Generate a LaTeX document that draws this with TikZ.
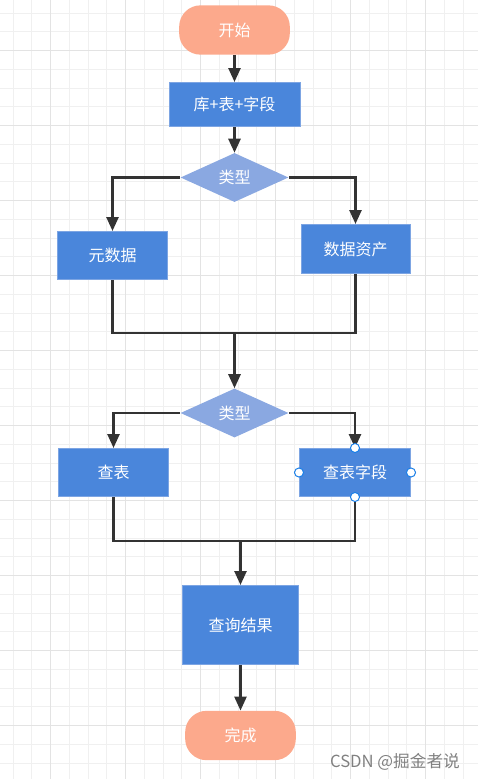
\documentclass[tikz,border=0pt]{standalone}
\usepackage{fontspec}
\setmainfont{Noto Sans CJK SC}
\usetikzlibrary{shapes.geometric,arrows.meta}
\definecolor{pillfill}{HTML}{FCA98C}
\definecolor{boxblue}{HTML}{4A86DB}
\definecolor{boxline}{HTML}{7DA5E3}
\definecolor{diamondblue}{HTML}{8AA8E1}
\definecolor{flowline}{HTML}{333333}
\definecolor{gridminor}{HTML}{F0F0F0}
\definecolor{gridmajor}{HTML}{E3E3E3}
\definecolor{handleblue}{HTML}{1A7FE8}
\tikzset{
	nodetext/.style={text=white, inner sep=0pt, font=\fontsize{12}{14}\selectfont},
	terminal/.style={nodetext, fill=pillfill, rounded corners=16pt, minimum width=83pt, minimum height=37pt},
	process/.style={nodetext, fill=boxblue, draw=boxline, line width=0.75pt},
	decision/.style={nodetext, diamond, aspect=2.2, fill=diamondblue, minimum width=81pt, minimum height=36.75pt},
	flow/.style={draw=flowline, line width=1.9pt, -{Triangle[length=10.5pt,width=9pt]}},
	joinline/.style={draw=flowline, line width=1.9pt},
	handle/.style={draw=handleblue, fill=white, line width=0.75pt},
	minorline/.style={draw=gridminor, line width=0.75pt},
	majorline/.style={draw=gridmajor, line width=1.1pt}
}
\begin{document}
\begin{tikzpicture}[x=0.75pt,y=0.75pt]
		\useasboundingbox (0,0) rectangle (478,-779);
		\foreach \gx in {0,...,25}
			\draw[minorline] ({13+18.75*\gx},0) -- ({13+18.75*\gx},-779);
		\foreach \gy in {0,...,41}
			\draw[minorline] (0,{-13-18.75*\gy}) -- (478,{-13-18.75*\gy});
		\foreach \gx in {0,...,5}
			\draw[majorline] ({50.5+75*\gx},0) -- ({50.5+75*\gx},-779);
		\foreach \gy in {0,...,9}
			\draw[majorline] (0,{-50.5-75*\gy}) -- (478,{-50.5-75*\gy});
		\node[terminal] (start) at (234.5,-30) {开始};
		\node[process, minimum width=98.25pt, minimum height=33pt] (lib) at (234.5,-104.5) {库+表+字段};
		\node[decision] (type1) at (234.5,-177.5) {类型};
		\node[process, minimum width=82.5pt, minimum height=36pt] (meta) at (112.5,-255.5) {元数据};
		\node[process, minimum width=81.75pt, minimum height=36.75pt] (asset) at (355.5,-249) {数据资产};
		\coordinate (join1) at (234.5,-333);
		\node[decision] (type2) at (234.5,-413) {类型};
		\node[process, minimum width=82.5pt, minimum height=36pt] (table) at (113.5,-472.5) {查表};
		\node[process, minimum width=83.25pt, minimum height=36pt] (field) at (355,-472.5) {查表字段};
		\coordinate (join2) at (240.5,-541);
		\node[process, minimum width=87pt, minimum height=59.25pt] (result) at (240.5,-625) {查询结果};
		\node[terminal] (finish) at (240.5,-735.5) {完成};
		\node[text=black!50, inner sep=0pt, font=\fontsize{12.5}{14}\selectfont] (mark) at (395,-762) {CSDN @掘金者说};
		\draw[flow] (start) -- (lib);
		\draw[flow] (lib) -- (type1);
		\draw[flow] (type1.west) -| (meta.north);
		\draw[flow] (type1.east) -| (asset.north);
		\draw[joinline] (meta.south) |- (join1) -| (asset.south);
		\draw[flow] (join1) -- (type2.north);
		\draw[flow] (type2.west) -| (table.north);
		\draw[flow] (type2.east) -| (field.north);
		\draw[joinline] (table.south) |- (join2) -| (field.south);
		\draw[flow] (join2) -- (result.north);
		\draw[flow] (result) -- (finish);
		\foreach \a in {north,south,east,west}
			\draw[handle] (field.\a) circle (3.4pt);
		\end{tikzpicture}
\end{document}
